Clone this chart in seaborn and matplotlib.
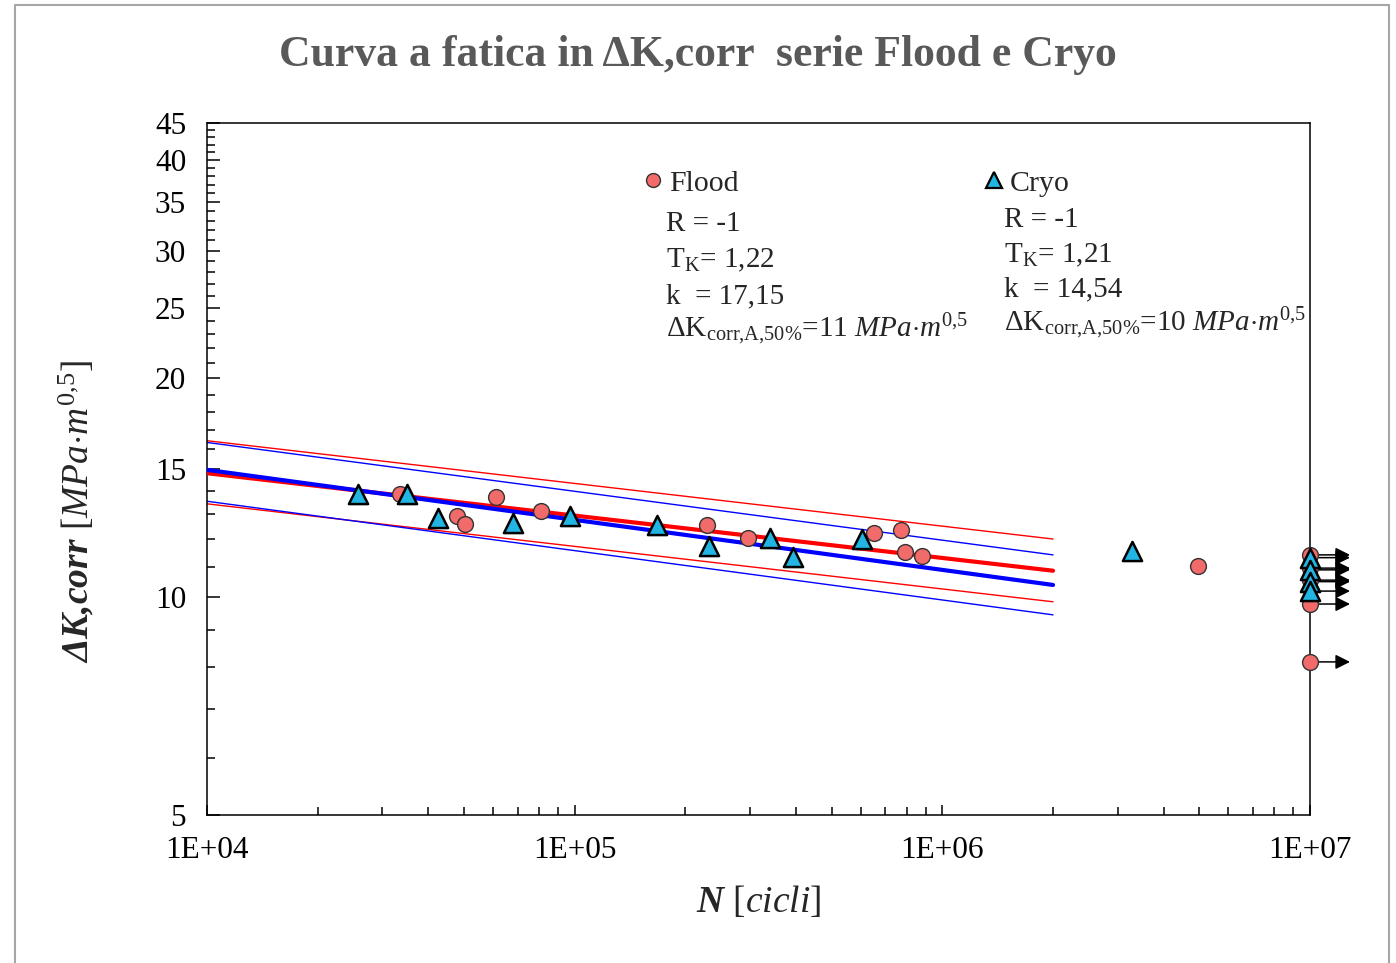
import matplotlib
matplotlib.use('Agg')
import matplotlib.pyplot as plt
import seaborn as sns
from matplotlib.lines import Line2D
from matplotlib.ticker import FixedLocator, FixedFormatter, NullFormatter

# Data
# Flood series (circles)
flood_N = [33.5e3, 47.9e3, 50.3e3, 61.1e3, 80.9e3, 229e3, 296e3, 652e3, 771e3, 791e3, 881e3, 4.95e6]
flood_K = [13.86, 12.92, 12.60, 13.73, 13.13, 12.56, 12.05, 12.24, 12.36, 11.53, 11.38, 11.02]
flood_runout_N = [1e7, 1e7, 1e7, 1e7, 1e7]
flood_runout_K = [11.42, 10.95, 10.54, 9.77, 8.13]

# Cryo series (triangles)
cryo_N = [25.8e3, 35.0e3, 42.5e3, 67.9e3, 97.1e3, 167e3, 232e3, 340e3, 393e3, 604e3, 3.28e6]
cryo_K = [13.86, 13.86, 12.85, 12.64, 12.92, 12.56, 11.74, 12.05, 11.35, 12.02, 11.57]
cryo_runout_N = [1e7, 1e7, 1e7, 1e7]
cryo_runout_K = [11.32, 10.89, 10.49, 10.18]

# fitted curves (50% and scatter band), endpoints at N = 1E4 and 2E6
fit_N = [1e4, 2e6]
flood_mid = [14.80, 10.86]
flood_up = [16.41, 12.01]
flood_low = [13.43, 9.84]
cryo_mid = [14.96, 10.38]
cryo_up = [16.32, 11.42]
cryo_low = [13.54, 9.44]

y_major = [5, 10, 15, 20, 25, 30, 35, 40, 45]
x_major = [1e4, 1e5, 1e6, 1e7]
x_labels = ['1E+04', '1E+05', '1E+06', '1E+07']

flood_text = ['R = -1', 'T$_{\\rm K}$= 1,22', 'k  = 17,15',
              '\u0394K$_{\\rm corr{,}A{,}50\\%}$=11 $\\mathit{MPa{\\cdot}m^{0{,}5}}$']
cryo_text = ['R = -1', 'T$_{\\rm K}$= 1,21', 'k  = 14,54',
             '\u0394K$_{\\rm corr{,}A{,}50\\%}$=10 $\\mathit{MPa{\\cdot}m^{0{,}5}}$']

sns.set_style('ticks')
plt.rcParams['font.family'] = ['Liberation Serif', 'DejaVu Serif']
plt.rcParams['mathtext.fontset'] = 'custom'
plt.rcParams['mathtext.rm'] = 'Liberation Serif'
plt.rcParams['mathtext.it'] = 'Liberation Serif:italic'
plt.rcParams['mathtext.bf'] = 'Liberation Serif:bold'
plt.rcParams['mathtext.bfit'] = 'Liberation Serif:bold:italic'

red_fill = '#F26B6B'
blue_fill = '#22B4E2'

fig = plt.figure(figsize=(13.96, 9.63), dpi=100)
ax = fig.add_axes([207 / 1396, 1 - 815 / 963, 1103 / 1396, 692 / 963])

# fit lines
for ys, c in [(flood_up, 'red'), (cryo_up, 'blue'), (flood_low, 'red'), (cryo_low, 'blue')]:
    sns.lineplot(x=fit_N, y=ys, color=c, lw=1.0, ax=ax, zorder=2)
sns.lineplot(x=fit_N, y=flood_mid, color='red', lw=3.0, ax=ax, zorder=3)
sns.lineplot(x=fit_N, y=cryo_mid, color='blue', lw=3.0, ax=ax, zorder=3)

# run-out arrows
for n, k in list(zip(flood_runout_N, flood_runout_K)) + list(zip(cryo_runout_N, cryo_runout_K)):
    ax.annotate('', xy=(n * 1.285, k), xytext=(n, k), annotation_clip=False,
                arrowprops=dict(arrowstyle='-|>', color='black', lw=1.1,
                                mutation_scale=22, shrinkA=0, shrinkB=0), zorder=3)

circ = dict(marker='o', s=130, color=red_fill, edgecolor='#333333', linewidth=1.0, clip_on=False)
tri = dict(marker='^', s=190, color=blue_fill, edgecolor='black', linewidth=1.8, clip_on=False)
sns.scatterplot(x=flood_N, y=flood_K, ax=ax, zorder=4, **circ)
sns.scatterplot(x=flood_runout_N, y=flood_runout_K, ax=ax, zorder=4, **circ)
sns.scatterplot(x=cryo_N, y=cryo_K, ax=ax, zorder=5, **tri)
sns.scatterplot(x=cryo_runout_N, y=cryo_runout_K, ax=ax, zorder=5, **tri)

ax.set_xscale('log')
ax.set_yscale('log')
ax.set_xlim(1e4, 1e7)
ax.set_ylim(5, 45)

ax.xaxis.set_major_locator(FixedLocator(x_major))
ax.xaxis.set_major_formatter(FixedFormatter(x_labels))
ax.xaxis.set_minor_locator(FixedLocator([m * 10 ** e for e in (4, 5, 6) for m in range(2, 10)]))
ax.xaxis.set_minor_formatter(NullFormatter())
ax.yaxis.set_major_locator(FixedLocator(y_major))
ax.yaxis.set_major_formatter(FixedFormatter([str(v) for v in y_major]))
ax.yaxis.set_minor_locator(FixedLocator([v for v in range(6, 45) if v % 5]))
ax.yaxis.set_minor_formatter(NullFormatter())

ax.tick_params(which='both', direction='in', colors='black', width=1.1, labelsize=22.5)
ax.tick_params(axis='x', which='major', length=7, pad=15)
ax.tick_params(axis='x', which='minor', length=6)
ax.tick_params(axis='y', which='major', length=9, pad=15)
ax.tick_params(axis='y', which='minor', length=6)
for sp in ax.spines.values():
    sp.set_color('black')
    sp.set_linewidth(1.1)

ax.set_xlabel('$\\mathbfit{N}$ [$\\mathit{cicli}$]', fontsize=27)
ax.xaxis.set_label_coords(0.5, -0.1)
ax.set_ylabel('$\\mathbfit{\\Delta K{,}corr}$ [$\\mathit{MPa{\\cdot}m^{0{,}5}}$]', fontsize=27)
ax.yaxis.set_label_coords(-0.1, 0.438)

fig.suptitle('Curva a fatica in \u0394K,corr  serie Flood e Cryo', x=0.5, y=1 - 55 / 963,
             va='center', fontsize=31.5, fontweight='bold', color='#595959')

# legend-like annotation blocks
h_flood = Line2D([], [], ls='', marker='o', markersize=10, markerfacecolor=red_fill,
                 markeredgecolor='#333333', markeredgewidth=1.0)
h_cryo = Line2D([], [], ls='', marker='^', markersize=11, markerfacecolor=blue_fill,
                markeredgecolor='black', markeredgewidth=1.6)
leg_kw = dict(loc='center left', frameon=False, fontsize=21.5, handlelength=0.6,
              handletextpad=0.25, borderpad=0, borderaxespad=0)
leg1 = ax.legend(handles=[h_flood], labels=['Flood'], bbox_to_anchor=(0.396, 0.913), **leg_kw)
ax.add_artist(leg1)
ax.legend(handles=[h_cryo], labels=['Cryo'], bbox_to_anchor=(0.705, 0.913), **leg_kw)

for i, (yf, yc) in enumerate(zip([0.854, 0.802, 0.750, 0.701], [0.860, 0.808, 0.759, 0.7095])):
    ax.text(0.416, yf, flood_text[i], transform=ax.transAxes, fontsize=21, va='center', ha='left')
    ax.text(0.7226, yc, cryo_text[i], transform=ax.transAxes, fontsize=21, va='center', ha='left')

# spreadsheet chart frame
fr = '#a6a6a6'
fig.add_artist(Line2D([15 / 1396, 1389 / 1396], [1 - 5 / 963, 1 - 5 / 963], color=fr, lw=1.5))
fig.add_artist(Line2D([15 / 1396, 15 / 1396], [0, 1 - 5 / 963], color=fr, lw=1.5))
fig.add_artist(Line2D([1389 / 1396, 1389 / 1396], [0, 1 - 5 / 963], color=fr, lw=1.5))

fig.savefig('out.png', dpi=100)
